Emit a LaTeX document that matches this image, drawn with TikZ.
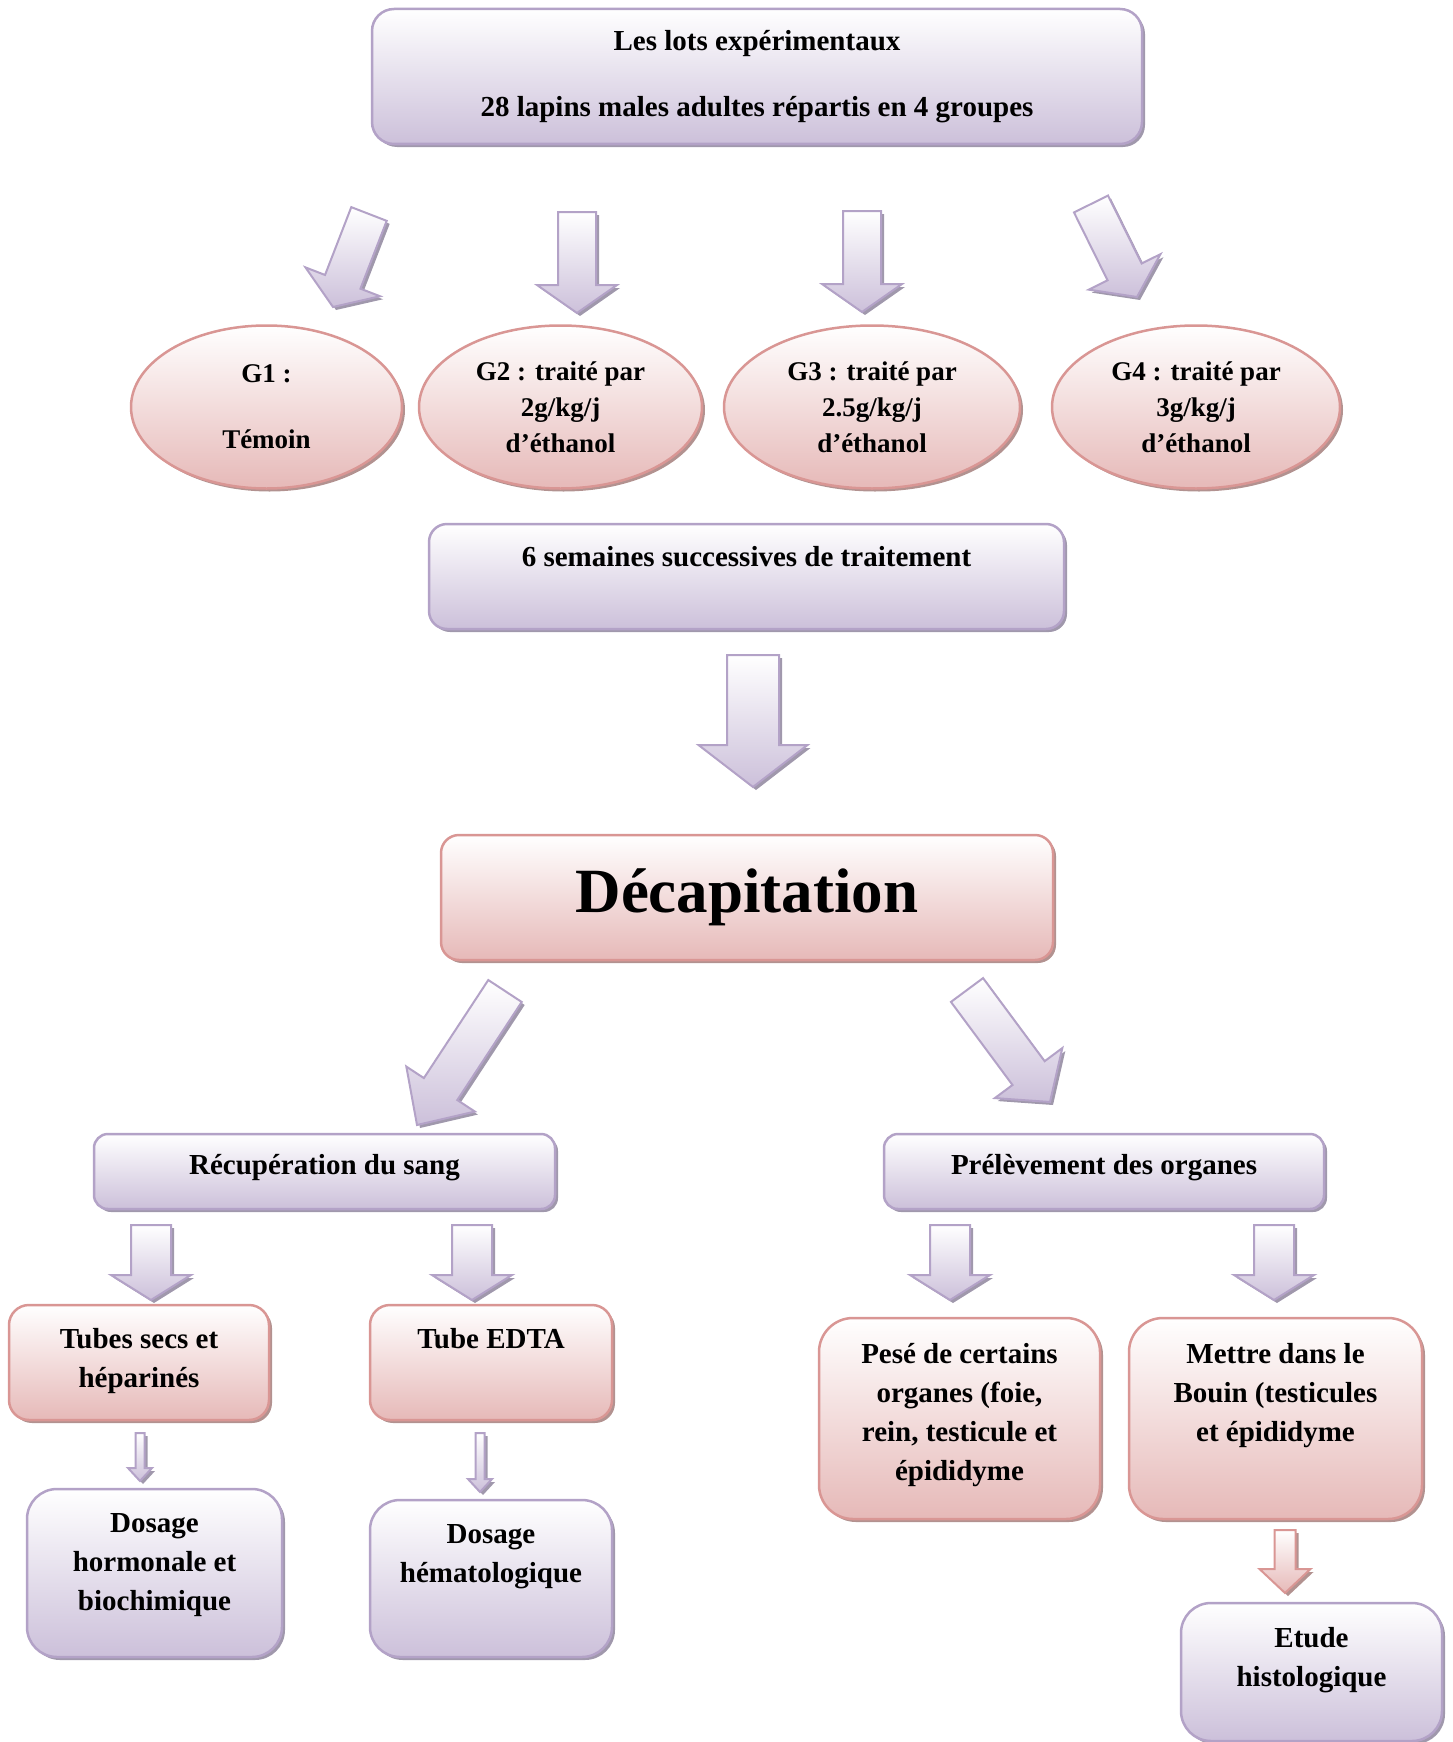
\documentclass[tikz,border=0pt]{standalone}
\usepackage{fontspec}
\setmainfont{Liberation Serif}
\usetikzlibrary{shapes.geometric,shadows,calc}
\definecolor{pkb}{RGB}{217,150,148}
\definecolor{pkf}{RGB}{230,185,184}
\definecolor{pks}{RGB}{178,146,144}
\definecolor{pub}{RGB}{179,162,199}
\definecolor{puf}{RGB}{204,192,218}
\definecolor{pus}{RGB}{160,152,172}
\newcommand{\tx}{\fontsize{29}{39}\selectfont\bfseries}
\newcommand{\st}{\rule{0pt}{22pt}}
\newcommand{\bt}[4]{\parbox[c][#2][t]{#1}{\centering\vspace*{#3}\st #4}}
\newcommand{\barrow}[6]{%
  \coordinate (hb) at ($(#2)!#5!(#1)$);
  \draw[#6] ($(#1)!#3!90:(#2)$) -- ($(hb)!#3!90:(#2)$) -- ($(hb)!#4!90:(#2)$) -- (#2)
    -- ($(hb)!#4!-90:(#2)$) -- ($(hb)!#3!-90:(#2)$) -- ($(#1)!#3!-90:(#2)$) -- cycle;}
\tikzset{
  pbox/.style={draw=pkb, line width=2.5pt, rounded corners=#1, top color=white, bottom color=pkf,
    drop shadow={shadow xshift=3pt, shadow yshift=-3pt, fill=pks, opacity=1}, inner sep=0pt, font=\tx},
  pbox/.default=20pt,
  ubox/.style={draw=pub, line width=2.5pt, rounded corners=#1, top color=white, bottom color=puf,
    drop shadow={shadow xshift=3pt, shadow yshift=-3pt, fill=pus, opacity=1}, inner sep=0pt, font=\tx},
  ubox/.default=20pt,
  ell/.style={ellipse, draw=pkb, line width=2.5pt, top color=white, bottom color=pkf,
    drop shadow={shadow xshift=3pt, shadow yshift=-3pt, fill=pks, opacity=1}, inner sep=0pt,
    minimum height=163pt, align=center, font=\fontsize{27}{36}\selectfont\bfseries},
  uarr/.style={draw=pub, line width=2pt, line join=miter, top color=white, bottom color=puf,
    drop shadow={shadow xshift=3pt, shadow yshift=-3pt, fill=pus, opacity=1}},
  parr/.style={draw=pkb, line width=2pt, line join=miter, top color=white, bottom color=pkf,
    drop shadow={shadow xshift=3pt, shadow yshift=-3pt, fill=pks, opacity=1}},
}
\begin{document}
\begin{tikzpicture}[x=1pt, y=-1pt]
\useasboundingbox (0,0) rectangle (1453,1742);
% top box
\node[ubox=22pt, minimum width=770pt, minimum height=135pt, align=center,
  font=\fontsize{29}{36}\selectfont\bfseries] (top) at (757,76.5)
  {Les lots expérimentaux\\[30pt]28 lapins males adultes répartis en 4 groupes};
% ellipses
\node[ell, minimum width=271pt] (g1) at (266.5,407) {G1 :\\[30pt]Témoin};
\node[ell, minimum width=283pt] (g2) at (560.5,407) {G2 : traité par\\2g/kg/j\\d’éthanol};
\node[ell, minimum width=296pt] (g3) at (872,407) {G3 : traité par\\2.5g/kg/j\\d’éthanol};
\node[ell, minimum width=288pt] (g4) at (1196,407) {G4 : traité par\\3g/kg/j\\d’éthanol};
% arrows top -> groups
\coordinate (a1s) at (369,214); \coordinate (a1e) at (333,307);
\coordinate (a2s) at (577,212); \coordinate (a2e) at (577,313);
\coordinate (a3s) at (862,211); \coordinate (a3e) at (862,312);
\coordinate (a4s) at (1091,204); \coordinate (a4e) at (1137,297);
\barrow{a1s}{a1e}{19pt}{40pt}{27pt}{uarr}
\barrow{a2s}{a2e}{19pt}{40pt}{28pt}{uarr}
\barrow{a3s}{a3e}{19pt}{40pt}{28pt}{uarr}
\barrow{a4s}{a4e}{19pt}{40pt}{28pt}{uarr}
% six weeks
\node[ubox=18pt] (sem) at (746.5,576.5) {\bt{635pt}{105pt}{20pt}{6 semaines successives de traitement}};
\coordinate (bs) at (753,655); \coordinate (be) at (753,787);
\barrow{bs}{be}{26pt}{54.5pt}{42pt}{uarr}
% decapitation
\node[pbox=18pt, minimum width=612pt, minimum height=125pt, font=\fontsize{63}{70}\selectfont\bfseries]
  (dec) at (747,897.5) {Décapitation};
\coordinate (dls) at (505,991); \coordinate (dle) at (417,1125);
\coordinate (drs) at (967,990); \coordinate (dre) at (1050,1102);
\barrow{dls}{dle}{20pt}{41pt}{43pt}{uarr}
\barrow{drs}{dre}{20pt}{42pt}{36pt}{uarr}
% second level
\node[ubox=14pt] (rec) at (324.5,1171.5) {\bt{461pt}{75pt}{18pt}{Récupération du sang}};
\node[ubox=14pt] (pre) at (1104,1171.5) {\bt{440pt}{75pt}{18pt}{Prélèvement des organes}};
\foreach \n/\x in {s1/151, s2/472, s3/950, s4/1274}{
  \coordinate (\n s) at (\x,1225); \coordinate (\n e) at (\x,1300);
  \barrow{\n s}{\n e}{20pt}{40pt}{25pt}{uarr}
}
% third level
\node[pbox=20pt] (tub) at (139,1362.5) {\bt{260pt}{115pt}{21pt}{Tubes secs et\\héparinés}};
\node[pbox=20pt] (edta) at (491,1362.5) {\bt{242pt}{115pt}{21pt}{Tube EDTA}};
\node[pbox=34pt] (pese) at (959.5,1418.5) {\bt{281pt}{201pt}{23pt}{Pesé de certains\\organes (foie,\\rein, testicule et\\épididyme}};
\node[pbox=34pt] (met) at (1275.5,1418.5) {\bt{293pt}{201pt}{23pt}{Mettre dans le\\Bouin (testicules\\et épididyme}};
% small arrows
\coordinate (t1s) at (140,1433); \coordinate (t1e) at (140,1481);
\coordinate (t2s) at (480,1433); \coordinate (t2e) at (480,1492);
\barrow{t1s}{t1e}{4.5pt}{12pt}{13pt}{uarr}
\barrow{t2s}{t2e}{4.5pt}{12pt}{13pt}{uarr}
\coordinate (ps) at (1285,1530); \coordinate (pe) at (1285,1593);
\barrow{ps}{pe}{10.5pt}{25.5pt}{24pt}{parr}
% fourth level
\node[ubox=30pt] (dh) at (154.5,1573) {\bt{255pt}{168pt}{21pt}{Dosage\\hormonale et\\biochimique}};
\node[ubox=30pt] (dhm) at (491,1578.5) {\bt{242pt}{157pt}{21pt}{Dosage\\hématologique}};
\node[ubox=30pt] (etu) at (1311.5,1672) {\bt{261pt}{138pt}{22pt}{Etude\\histologique}};
\end{tikzpicture}
\end{document}
